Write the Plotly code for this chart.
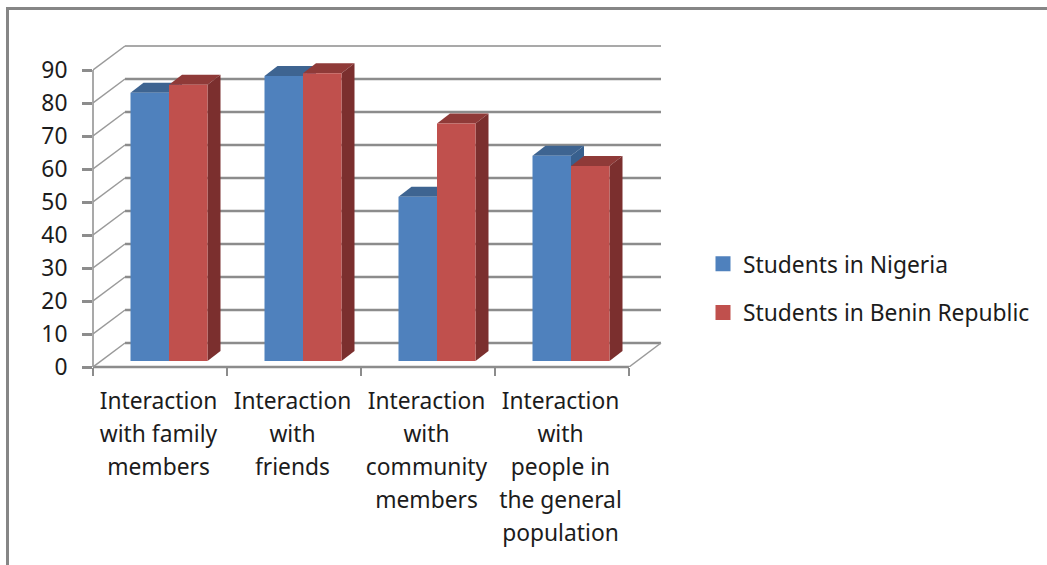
import plotly.graph_objects as go

categories = [
    "Interaction<br>with family<br>members",
    "Interaction<br>with<br>friends",
    "Interaction<br>with<br>community<br>members",
    "Interaction<br>with<br>people in<br>the general<br>population",
]
nigeria = [81.3, 86.4, 49.8, 62.2]
benin = [83.7, 87.2, 72.0, 59.1]
y_ticks = [0, 10, 20, 30, 40, 50, 60, 70, 80, 90]

BLUE, BLUE_TOP, BLUE_SIDE = "#4f81bd", "#3e6491", "#38608e"
RED, RED_TOP, RED_SIDE = "#c0504d", "#8f3a38", "#7b2f2e"
GRID = "#8c8c8c"
INK = "#1c1c1c"
FONT = "Noto Sans"

# pixel geometry of the frame
W, H = 1047, 565
L, R, T, B = 93, 670, 40, 367
PX_X = 134.0            # pixels per category
PX_Y = 3.3              # pixels per value unit
xmax = (R - L) / PX_X
ymax = (B - T) / PX_Y
DX, DY = 32 / PX_X, 24 / PX_Y        # wall depth
BDX, BDY = 13 / PX_X, 10 / PX_Y      # bar depth
BASE = 6 / PX_Y                      # bars float above the axis line
BW = 38.5 / PX_X
SHIFT = 9 / PX_X
pos = [i + 0.5 for i in range(len(categories))]
label_pos = [p - 1.5 / PX_X for p in pos]
n = len(categories)

def px(p):
    return (p - L) / (R - L)

def py(p):
    return (B - p) / (B - T)

shapes = []

def line(x0, y0, x1, y1, color=GRID, width=2, xref="x", yref="y"):
    shapes.append(dict(type="line", x0=x0, y0=y0, x1=x1, y1=y1, xref=xref, yref=yref,
                       layer="below", line=dict(color=color, width=width)))

def poly(pts, color):
    d = "M" + " L".join(f"{a},{b}" for a, b in pts) + " Z"
    shapes.append(dict(type="path", path=d, xref="x", yref="y", layer="below",
                       fillcolor=color, line=dict(width=0)))

# back wall
for v in y_ticks:
    line(DX, v + DY, n + DX, v + DY, width=2.4 if v < 90 else 1.6)
    line(0, v, DX, v + DY, width=1.5, color="#9a9a9a")
line(n, 0, n + DX, DY, width=1.5, color="#9a9a9a")
# front axes
line(0, 0, 0, 90, width=1.5, xref="paper")
line(0, 0, n, 0, width=2.5, yref="paper")

# bar depth: top and side faces
def depth(values, left, top, side):
    for c, v in zip(pos, values):
        x0 = c + SHIFT + left
        x1 = x0 + BW
        y0, y1 = BASE, BASE + v
        poly([(x0, y1), (x1, y1), (x1 + BDX, y1 + BDY), (x0 + BDX, y1 + BDY)], top)
        poly([(x1, y0), (x1 + BDX, y0 + BDY), (x1 + BDX, y1 + BDY), (x1, y1)], side)

depth(nigeria, -BW, BLUE_TOP, BLUE_SIDE)
depth(benin, 0, RED_TOP, RED_SIDE)

# frame of the chart area
shapes.append(dict(type="path", xref="paper", yref="paper", layer="below",
                   path=f"M{px(1060)},{py(8.5)} L{px(7.5)},{py(8.5)} L{px(7.5)},{py(580)}",
                   line=dict(color="#868686", width=3)))

fig = go.Figure()
fig.add_bar(x=pos, y=nigeria, base=BASE, width=BW, offset=SHIFT - BW,
            marker=dict(color=BLUE, line=dict(width=0)), showlegend=False, name="Students in Nigeria")
fig.add_bar(x=pos, y=benin, base=BASE, width=BW, offset=SHIFT,
            marker=dict(color=RED, line=dict(width=0)), showlegend=False, name="Students in Benin Republic")
# legend keys
for name, col in (("Students in Nigeria", BLUE), ("Students in Benin Republic", RED)):
    fig.add_scatter(x=[None], y=[None], mode="markers", name=name, legendgroup=name,
                    marker=dict(symbol="square", size=15, color=col))

FS = 22.8
tick_text = ["<br>".join(f"<span style='font-size:{FS}px'>{t}</span>" for t in c.split("<br>"))
             for c in categories]

fig.update_layout(
    width=W, height=H, autosize=False,
    margin=dict(l=L, r=W - R, t=T, b=H - B, pad=0),
    paper_bgcolor="white", plot_bgcolor="white",
    barmode="overlay", shapes=shapes,
    font=dict(family=FONT, color=INK, size=FS),
    showlegend=True,
    legend=dict(x=px(703), xanchor="left", y=py(288.5), yanchor="middle",
                font=dict(size=FS, family=FONT, color=INK),
                tracegroupgap=16, bgcolor="rgba(0,0,0,0)", borderwidth=0),
    xaxis=dict(range=[0, xmax], tickmode="array", tickvals=label_pos, ticktext=tick_text,
               ticks="", showgrid=False, zeroline=False, showline=False, tickangle=0,
               tickfont=dict(size=33 / 1.3, family=FONT, color=INK), ticklabelstandoff=16,
               minor=dict(tickmode="array", tickvals=list(range(n + 1)), ticks="outside",
                          ticklen=8, tickcolor=GRID, tickwidth=2, showgrid=False)),
    yaxis=dict(range=[0, ymax], tickmode="array", tickvals=y_ticks,
               ticks="outside", ticklen=10, tickcolor=GRID, tickwidth=2.5, showgrid=False,
               zeroline=False, showline=False, ticklabelstandoff=10,
               tickfont=dict(size=FS, family=FONT, color=INK)),
)
fig.write_html("out.html", config=dict(displayModeBar=False),
               post_script="document.body.style.margin='0';")
